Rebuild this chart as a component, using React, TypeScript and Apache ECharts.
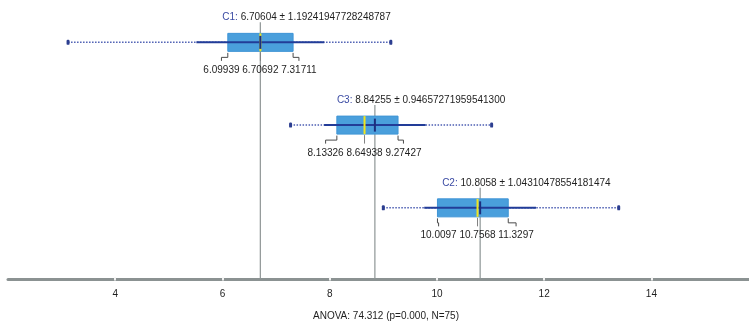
import React, { useEffect, useRef } from 'react';
import * as echarts from 'echarts';

// Data (row order top to bottom)
const groups = ['C1', 'C3', 'C2'];
const minVals = [3.12, 7.27, 9.0];
const q1Vals = [6.09939, 8.13326, 10.0097];
const medianVals = [6.70692, 8.64938, 10.7568];
const q3Vals = [7.31711, 9.27427, 11.3297];
const maxVals = [9.14, 11.02, 13.39];
const meanVals = [6.70604, 8.84255, 10.8058];
const sdVals = [1.19241947728248787, 0.946572719595413, 1.04310478554181474];
const sdLabels = ['1.19241947728248787', '0.94657271959541300', '1.04310478554181474'];
const q1Labels = ['6.09939', '8.13326', '10.0097'];
const medianLabels = ['6.70692', '8.64938', '10.7568'];
const q3Labels = ['7.31711', '9.27427', '11.3297'];
const meanLabels = ['6.70604', '8.84255', '10.8058'];
const tickValues = [4, 6, 8, 10, 12, 14];
const anovaText = 'ANOVA: 74.312 (p=0.000, N=75)';

const FONT_FAMILY = '"Liberation Sans", Arial, sans-serif';
const FONT = '10px ' + FONT_FAMILY;
const TEXT_COLOR = '#1e1e1e';

let measureCtx: CanvasRenderingContext2D | null = null;
function textWidth(s: string): number {
  if (!measureCtx) measureCtx = document.createElement('canvas').getContext('2d');
  if (!measureCtx) return s.length * 5.5;
  measureCtx.font = FONT;
  return measureCtx.measureText(s).width;
}

export default function App() {
  const ref = useRef<HTMLDivElement>(null);

  useEffect(() => {
    if (!ref.current) return;
    const chart = echarts.init(ref.current, null, { renderer: 'svg' });

    const data = groups.map((_, i) => [
      i, minVals[i], q1Vals[i], medianVals[i], q3Vals[i], maxVals[i], meanVals[i], sdVals[i],
    ]);

    const renderItem = (params: any, api: any) => {
      const i = params.dataIndex;
      const row = api.value(0);
      const cs = params.coordSys;
      const axisY = cs.y + cs.height;
      const c = (v: number) => api.coord([v, row]);
      const [minX, yc] = c(api.value(1));
      const q1X = c(api.value(2))[0];
      const medX = c(api.value(3))[0];
      const q3X = c(api.value(4))[0];
      const maxX = c(api.value(5))[0];
      const mean = api.value(6);
      const sd = api.value(7);
      const meanX = c(mean)[0];
      const sdL = c(mean - sd)[0];
      const sdR = c(mean + sd)[0];

      const medW = textWidth(medianLabels[i]);
      const spaceW = textWidth(' ');
      const q1W = textWidth(q1Labels[i]);
      const q3W = textWidth(q3Labels[i]);
      const q1Right = medX - medW / 2 - spaceW;
      const q3Left = medX + medW / 2 + spaceW;
      const q1C = q1Right - q1W / 2;
      const q3C = q3Left + q3W / 2;
      const labelY = yc + 27;

      const prefix = groups[i] + ':';
      const prefixW = textWidth(prefix);
      const titleLeft = meanX - 38;
      const titleY = yc - 25.5;

      const bracketColor = '#4a4a4a';

      return {
        type: 'group',
        silent: true,
        children: [
          { type: 'line', shape: { x1: meanX, y1: yc - 20, x2: meanX, y2: axisY }, style: { stroke: '#8e9595', lineWidth: 1.2 } },
          { type: 'line', shape: { x1: minX, y1: yc, x2: maxX, y2: yc }, style: { stroke: '#4d5fb3', lineWidth: 1.5, lineDash: [1.5, 1.5] } },
          { type: 'rect', shape: { x: q1X, y: yc - 9, width: q3X - q1X, height: 18 }, style: { fill: '#4a9fdc', stroke: '#3f95d6', lineWidth: 1 } },
          { type: 'line', shape: { x1: sdL, y1: yc, x2: sdR, y2: yc }, style: { stroke: '#223c98', lineWidth: 2 } },
          { type: 'line', shape: { x1: medX, y1: yc - 9, x2: medX, y2: yc + 9 }, style: { stroke: '#f2e51c', lineWidth: 2 } },
          { type: 'line', shape: { x1: meanX, y1: yc - 6.5, x2: meanX, y2: yc + 6.5 }, style: { stroke: '#1c2f7e', lineWidth: 2 } },
          { type: 'rect', shape: { x: minX - 1.5, y: yc - 2.5, width: 3, height: 5, r: 1.2 }, style: { fill: '#2c3e90' } },
          { type: 'rect', shape: { x: maxX - 1.5, y: yc - 2.5, width: 3, height: 5, r: 1.2 }, style: { fill: '#2c3e90' } },
          { type: 'polyline', shape: { points: [[q1X, yc + 10.5], [q1X, yc + 15], [q1C, yc + 15], [q1C, yc + 18.5]] }, style: { stroke: bracketColor, lineWidth: 1, fill: 'none' } },
          { type: 'polyline', shape: { points: [[q3X, yc + 10.5], [q3X, yc + 15], [q3C, yc + 15], [q3C, yc + 18.5]] }, style: { stroke: bracketColor, lineWidth: 1, fill: 'none' } },
          { type: 'line', shape: { x1: medX, y1: yc + 10, x2: medX, y2: yc + 18.5 }, style: { stroke: '#808080', lineWidth: 1 } },
          { type: 'text', style: { text: q1Labels[i], x: q1Right, y: labelY, font: FONT, fill: TEXT_COLOR, align: 'right', verticalAlign: 'middle' } },
          { type: 'text', style: { text: medianLabels[i], x: medX, y: labelY, font: FONT, fill: TEXT_COLOR, align: 'center', verticalAlign: 'middle' } },
          { type: 'text', style: { text: q3Labels[i], x: q3Left, y: labelY, font: FONT, fill: TEXT_COLOR, align: 'left', verticalAlign: 'middle' } },
          { type: 'text', style: { text: prefix, x: titleLeft, y: titleY, font: FONT, fill: '#3a4aa3', align: 'left', verticalAlign: 'middle' } },
          { type: 'text', style: { text: ' ' + meanLabels[i] + ' \u00b1 ' + sdLabels[i], x: titleLeft + prefixW, y: titleY, font: FONT, fill: TEXT_COLOR, align: 'left', verticalAlign: 'middle' } },
        ],
      };
    };

    chart.setOption({
      animation: false,
      grid: { left: 8, right: 0, top: 1, bottom: 43, containLabel: false },
      xAxis: [
        {
          type: 'value', min: 2, max: 15.82, interval: 2, position: 'bottom',
          splitLine: { show: false },
          axisLine: { show: true, onZero: false, lineStyle: { color: '#8b9292', width: 3 } },
          axisTick: { show: true, inside: true, length: 1.5, customValues: tickValues, lineStyle: { color: '#f2f2f2', width: 2 } },
          axisLabel: {
            show: true, customValues: tickValues, margin: 9, color: TEXT_COLOR, fontSize: 10, fontFamily: FONT_FAMILY,
            formatter: (v: number) => (tickValues.indexOf(v) >= 0 ? String(v) : ''),
          },
        },
        {
          type: 'value', min: 2, max: 15.82, interval: 2, position: 'bottom', offset: 0,
          splitLine: { show: false },
          axisLine: { show: false, onZero: false },
          axisTick: { show: true, inside: false, length: 1.5, customValues: tickValues, lineStyle: { color: '#f2f2f2', width: 2 } },
          axisLabel: { show: false },
        },
      ],
      yAxis: { type: 'value', min: -0.5, max: 2.86, inverse: true, show: false },
      graphic: [
        { type: 'text', x: 386, y: 315, silent: true, style: { text: anovaText, font: FONT, fill: TEXT_COLOR, align: 'center', verticalAlign: 'middle' } },
      ],
      series: [
        {
          type: 'custom',
          renderItem,
          xAxisIndex: 0,
          yAxisIndex: 0,
          encode: { x: [1, 2, 3, 4, 5, 6], y: 0 },
          data,
          clip: false,
        },
      ],
    });

    return () => chart.dispose();
  }, []);

  return <div ref={ref} style={{ position: 'fixed', left: 0, top: 0, width: 749, height: 322 }} />;
}
